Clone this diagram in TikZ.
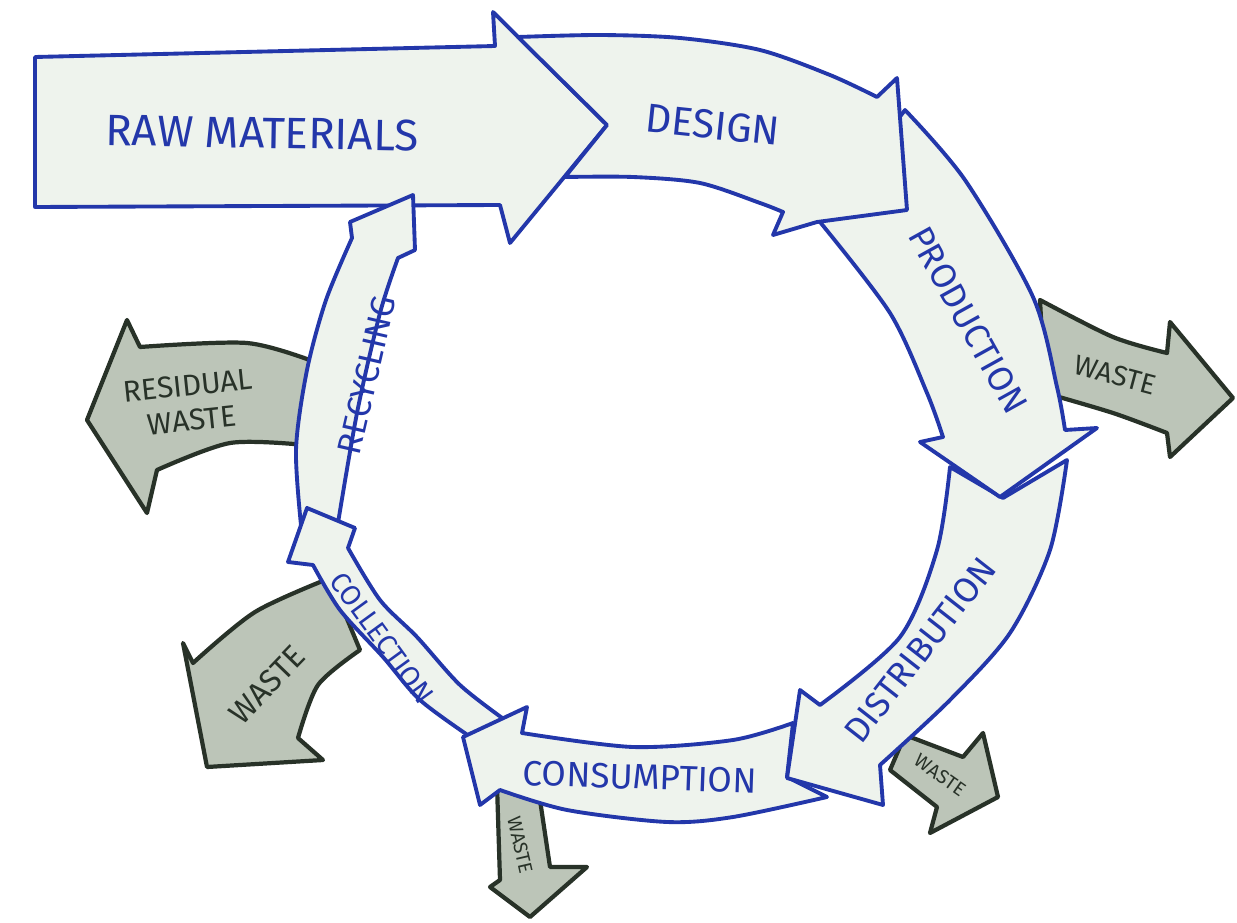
\documentclass[tikz,border=0pt]{standalone}
\usepackage{fontspec}
\setmainfont{Fira Sans}
\usetikzlibrary{calc}
\definecolor{inkblue}{RGB}{35,55,170}
\definecolor{paper}{RGB}{238,243,237}
\definecolor{wastefill}{RGB}{188,197,184}
\definecolor{wasteink}{RGB}{40,50,40}
\tikzset{
  ring/.style={draw=inkblue, fill=paper, line width=1.1pt, line join=round},
  waste/.style={draw=wasteink, fill=wastefill, line width=1.2pt, line join=round},
  ringtext/.style={text=inkblue, font=\fontsize{10}{12}\selectfont},
  wastetext/.style={text=wasteink, font=\fontsize{8}{9}\selectfont, align=center}
}
\begin{document}
\begin{tikzpicture}[x=0.1mm, y=-0.1mm]
\useasboundingbox (0,0) rectangle (1237,923);
% waste arrows, behind the ring
\draw[waste] (1040,300) -- plot[smooth] coordinates {(1040,300) (1113,337) (1167,353)} -- (1170,322) -- (1233,398) -- (1170,457) -- plot[smooth] coordinates {(1167,433) (1113,413) (1045,393)} -- cycle;
\draw[waste] (905,735) -- plot[smooth] coordinates {(905,735) (963,757)} -- (983,733) -- (998,797) -- (930,833) -- plot[smooth] coordinates {(937,807) (890,770)} -- cycle;
\draw[waste] (497,785) -- (500,880) -- (490,887) -- (530,917) -- (587,867) -- (550,867) -- (540,800) -- cycle;
\draw[waste] (330,578) -- plot[smooth] coordinates {(330,578) (255,612) (193,663)} -- (183,643) -- (207,767) -- (323,760) -- plot[smooth] coordinates {(298,738) (318,685) (360,650)} -- cycle;
\draw[waste] (315,362) -- plot[smooth] coordinates {(315,362) (247,343) (140,347)} -- (127,320) -- (87,420) -- (147,513) -- plot[smooth] coordinates {(157,470) (230,443) (305,445)} -- cycle;
% ring
\draw[ring] (35,57) -- (495,46) -- (493,12) -- (607,125) -- (510,243) -- (500,205) -- (35,207) -- cycle;
\draw[ring] (302,535) -- plot[smooth] coordinates {(302,535) (296,450) (307,370) (326,300) (352,238)} -- (350,222) -- (413,195) -- (415,250) -- plot[smooth] coordinates {(398,258) (380,313) (357,413) (336,535)} -- cycle;
\draw[ring] (505,720) -- plot[smooth] coordinates {(472,738) (420,700) (383,657) (340,610) (313,565)} -- (288,562) -- (307,508) -- (355,528) -- plot[smooth] coordinates {(348,548) (380,600) (417,637) (460,685) (505,720)} -- cycle;
\draw[ring] (793,723) -- (787,777) -- plot[smooth] coordinates {(827,797) (733,817) (667,822) (567,810) (500,790)} -- (480,805) -- (463,737) -- (527,707) -- plot[smooth] coordinates {(522,733) (633,747) (733,740) (793,723)} -- cycle;
\draw[ring] (950,467) -- (1003,498) -- plot[smooth] coordinates {(1067,460) (1050,550) (1010,633) (950,700) (880,765)} -- (883,805) -- (787,778) -- (800,690) -- plot[smooth] coordinates {(820,705) (900,637) (937,550) (950,467)} -- cycle;
\draw[ring] (905,110) -- plot[smooth] coordinates {(905,110) (965,180) (1033,297) (1057,387) (1065,430)} -- (1097,428) -- (1000,497) -- (920,442) -- plot[smooth] coordinates {(943,437) (927,393) (890,313) (820,222)} -- cycle;
\draw[ring] (518,37) -- plot[smooth] coordinates {(518,37) (600,35) (680,38) (760,50) (830,75) (877,97)} -- (897,78) -- (907,210) -- (817,222) -- (773,235) -- plot[smooth] coordinates {(783,212) (760,203) (700,183) (633,177) (565,177)} -- (607,125) -- cycle;
% labels
\node[ringtext, font=\fontsize{12.5}{14}\selectfont, rotate=-1] (raw) at (262,133) {RAW MATERIALS};
\node[ringtext, font=\fontsize{11.5}{13}\selectfont, rotate=-6] (design) at (713,125) {DESIGN};
\node[ringtext, rotate=-61] (prod) at (968,320) {PRODUCTION};
\node[ringtext, rotate=52] (dist) at (920,650) {DISTRIBUTION};
\node[ringtext, rotate=-2] (cons) at (640,777) {CONSUMPTION};
\node[ringtext, font=\fontsize{8}{9}\selectfont, rotate=-54] (coll) at (382,638) {COLLECTION};
\node[ringtext, font=\fontsize{9.5}{10}\selectfont, rotate=77] (recy) at (367,375) {RECYCLING};
\node[wastetext, rotate=-15] (wprod) at (1115,375) {WASTE};
\node[wastetext, font=\fontsize{5.5}{6}\selectfont, rotate=-35] (wdist) at (940,775) {WASTE};
\node[wastetext, font=\fontsize{5.5}{6}\selectfont, rotate=-77] (wcons) at (520,845) {WASTE};
\node[wastetext, font=\fontsize{9}{10}\selectfont, rotate=46] (wcoll) at (267,685) {WASTE};
\node[wastetext, font=\fontsize{8.5}{10}\selectfont, rotate=6] (wres) at (190,403) {RESIDUAL\\WASTE};
\end{tikzpicture}
\end{document}
